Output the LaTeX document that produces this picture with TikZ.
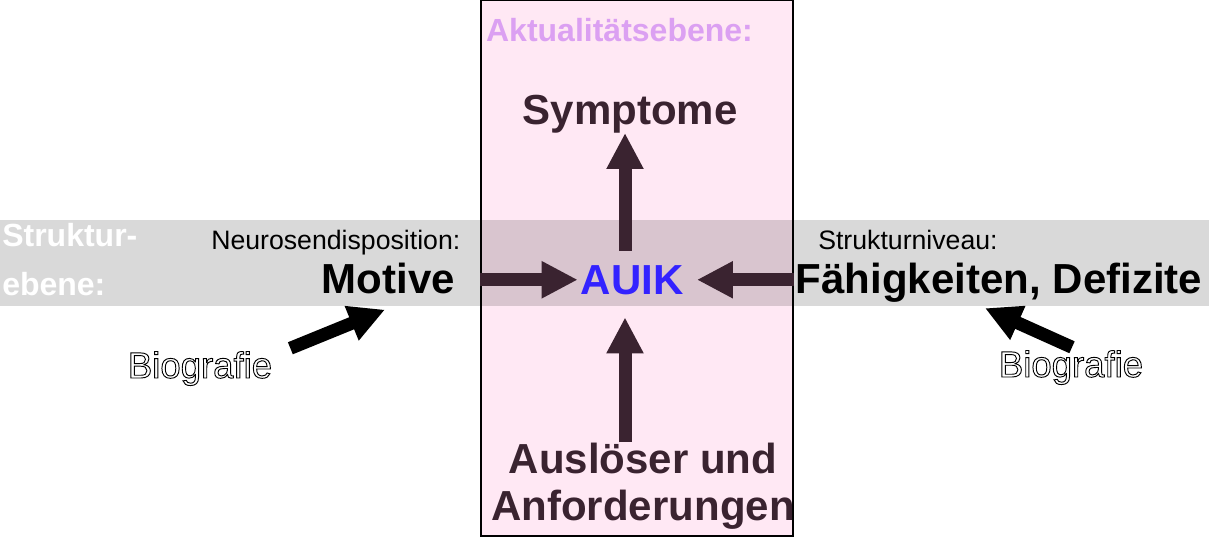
\documentclass[tikz,border=0pt]{standalone}
\usepackage{fontspec}
\setmainfont{Liberation Sans}
\usepackage{tikz}
\usetikzlibrary{arrows.meta,positioning}
\definecolor{ink}{HTML}{3A2330}
\definecolor{auikblue}{HTML}{3322FF}
\definecolor{lilac}{HTML}{DBA0F2}
\definecolor{pink}{HTML}{FFE8F4}
\newcommand{\hohl}[1]{\special{pdf:literal direct 1 Tr 0.7 w}#1\special{pdf:literal direct 0 Tr 0.4 w}}

\begin{document}
\begin{tikzpicture}[x=0.75pt,y=-0.75pt,
  every node/.style={inner sep=0pt},
  aktbox/.style={draw=black,line width=1.5pt,fill=pink,minimum width=234pt,minimum height=402pt},
  bandbox/.style={fill=black,fill opacity=0.15,minimum width=906.75pt,minimum height=64.5pt},
  bigtext/.style={font=\fontsize{31.5}{35.25}\selectfont\bfseries,anchor=base},
  smalltext/.style={font=\fontsize{20}{24}\selectfont,anchor=base west},
  planetext/.style={font=\fontsize{24}{36.75}\selectfont\bfseries,anchor=base west,align=left},
  biotext/.style={font=\fontsize{27.4}{33}\selectfont,anchor=base},
  thickarrow/.style={-{Triangle[length=27pt,width=26pt]},line width=9.75pt,draw=ink},
  bioarrow/.style={thickarrow,draw=black}
]
\useasboundingbox (0,0) rectangle (1209,539);
\node[aktbox] (akt) at (637,268) {};
\node[bandbox] (band) at (604.5,263) {};

\node[font=\fontsize{24}{28}\selectfont\bfseries,text=lilac,anchor=base] (aktlabel) at (619.5,41) {Aktualitätsebene:};
\node[bigtext,text=ink] (symptome) at (630,124) {Symptome};
\node[planetext,text=white] (struktur) at (2,295) {Struktur-\\ebene:};
\node[smalltext] (neuro) at (211,249) {Neurosendisposition:};
\node[bigtext] (motive) at (388.5,293) {Motive};
\node[bigtext,text=auikblue] (auik) at (632,294) {AUIK};
\node[smalltext] (niveau) at (818,249) {Strukturniveau:};
\node[bigtext] (faehig) at (999,293) {Fähigkeiten, Defizite};
\node[bigtext,text=ink,align=center] (ausloeser) at (643,520) {Auslöser und\\Anforderungen};

\draw[thickarrow,shorten >=2pt] (akt.west |- auik) -- (auik.west);
\draw[thickarrow,shorten >=10pt] (akt.east |- auik) -- (auik.east);
\draw[thickarrow,shorten <=10.5pt] ([xshift=-5.25pt]auik.north) -- ([xshift=-5.25pt]auik.north |- symptome.south);
\draw[thickarrow,shorten >=17pt] ([xshift=-5.25pt]auik.south |- ausloeser.north) -- ([xshift=-5.25pt]auik.south);

\node[biotext] (bioL) at (200,378) {\hohl{Biografie}};
\node[biotext] (bioR) at (1071,377) {\hohl{Biografie}};
\draw[bioarrow] ([shift={(18,-3)}]bioL.north east) -- ([shift={(-3.5,16)}]motive.south);
\draw[bioarrow] ([shift={(1,-3)}]bioR.north) -- ([shift={(-14,6)}]faehig.south);
\end{tikzpicture}
\end{document}
